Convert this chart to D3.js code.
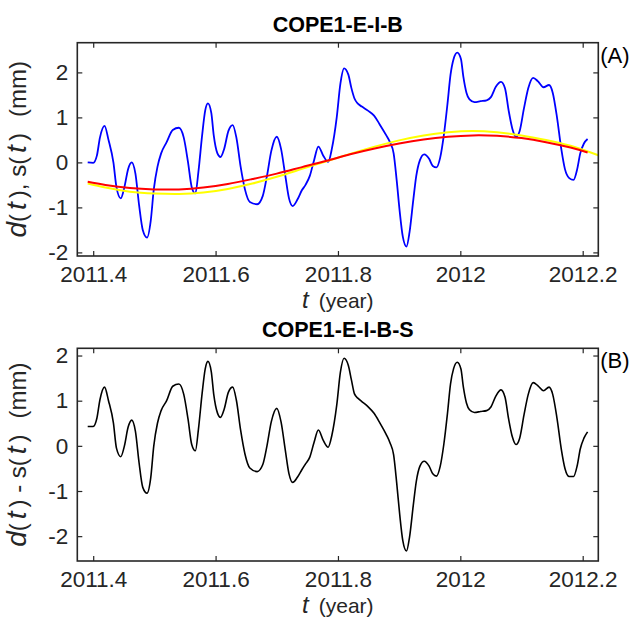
<!DOCTYPE html>
<html>
<head>
<meta charset="utf-8">
<script src="https://cdn.jsdelivr.net/npm/d3@7"></script>
<style>
  html, body { margin: 0; padding: 0; background: #fff; }
  svg { display: block; }
  text { font-family: "Liberation Sans", Arial, Helvetica, sans-serif; fill: #262626; }
</style>
</head>
<body>
<svg id="chart" width="631" height="622"></svg>
<script>
// Observed displacement d(t) (mm)
const obsTime = [2011.391, 2011.400, 2011.406, 2011.411, 2011.4185, 2011.425, 2011.433, 2011.438, 2011.445, 2011.451,
  2011.457, 2011.463, 2011.469, 2011.475, 2011.481, 2011.488, 2011.494, 2011.499, 2011.505, 2011.511,
  2011.520, 2011.530, 2011.540, 2011.548, 2011.555, 2011.561, 2011.567, 2011.572, 2011.578, 2011.583,
  2011.5875, 2011.593, 2011.597, 2011.603, 2011.608, 2011.614, 2011.621, 2011.628, 2011.634, 2011.641,
  2011.648, 2011.656, 2011.668, 2011.677, 2011.684, 2011.691, 2011.700, 2011.707, 2011.714, 2011.720,
  2011.726, 2011.734, 2011.741, 2011.747, 2011.754, 2011.761, 2011.768, 2011.776, 2011.784, 2011.790,
  2011.798, 2011.804, 2011.810, 2011.817, 2011.822, 2011.827, 2011.833, 2011.839, 2011.849, 2011.859,
  2011.868, 2011.879, 2011.885, 2011.891, 2011.896, 2011.901, 2011.906, 2011.912, 2011.917, 2011.923,
  2011.928, 2011.934, 2011.941, 2011.949, 2011.955, 2011.961, 2011.967, 2011.973, 2011.979, 2011.984,
  2011.989, 2011.995, 2012.001, 2012.005, 2012.010, 2012.015, 2012.023, 2012.033, 2012.043, 2012.050,
  2012.058, 2012.0665, 2012.073, 2012.079, 2012.085, 2012.091, 2012.097, 2012.104, 2012.111, 2012.119,
  2012.127, 2012.136, 2012.145, 2012.151, 2012.158, 2012.165, 2012.171, 2012.178, 2012.185, 2012.191,
  2012.196, 2012.202, 2012.208];
const obsValue = [0.00, -0.01, 0.15, 0.55, 0.81, 0.50, 0.00, -0.55, -0.80, -0.55,
  -0.15, 0.00, -0.25, -0.95, -1.50, -1.67, -1.30, -0.60, -0.10, 0.20,
  0.45, 0.72, 0.77, 0.55, 0.00, -0.55, -0.69, -0.20, 0.60, 1.15,
  1.31, 1.10, 0.60, 0.20, 0.12, 0.30, 0.70, 0.83, 0.55, -0.10,
  -0.60, -0.88, -0.93, -0.75, -0.30, 0.25, 0.57, 0.30, -0.30, -0.80,
  -0.97, -0.82, -0.62, -0.50, -0.30, 0.05, 0.35, 0.15, 0.01, 0.30,
  1.00, 1.75, 2.09, 1.95, 1.65, 1.42, 1.30, 1.24, 1.15, 1.04,
  0.85, 0.60, 0.45, 0.20, -0.40, -1.10, -1.65, -1.87, -1.55, -0.85,
  -0.30, 0.05, 0.18, 0.08, -0.08, -0.11, 0.10, 0.60, 1.30, 1.95,
  2.30, 2.44, 2.30, 1.90, 1.55, 1.40, 1.34, 1.36, 1.38, 1.45,
  1.68, 1.79, 1.65, 1.15, 0.75, 0.57, 0.70, 1.20, 1.65, 1.88,
  1.80, 1.67, 1.72, 1.55, 1.00, 0.30, -0.15, -0.35, -0.39, -0.15,
  0.20, 0.42, 0.52];

// Seasonal signal s(t) (red) and alternative seasonal fit (yellow)
const sigTime = [2011.391, 2011.42, 2011.46, 2011.50, 2011.54, 2011.58, 2011.62, 2011.66, 2011.70, 2011.74,
  2011.78, 2011.82, 2011.86, 2011.90, 2011.94, 2011.98, 2012.02, 2012.06, 2012.10, 2012.14,
  2012.18, 2012.208];
const sigValue = [-0.43, -0.50, -0.57, -0.60, -0.60, -0.56, -0.48, -0.37, -0.25, -0.11,
  0.03, 0.18, 0.31, 0.42, 0.51, 0.57, 0.60, 0.59, 0.54, 0.45,
  0.33, 0.22];
const altTime = [2011.391, 2011.42, 2011.46, 2011.50, 2011.54, 2011.58, 2011.62, 2011.66, 2011.70, 2011.74,
  2011.78, 2011.82, 2011.86, 2011.90, 2011.94, 2011.98, 2012.02, 2012.06, 2012.10, 2012.14,
  2012.18, 2012.2255];
const altValue = [-0.47, -0.56, -0.65, -0.69, -0.70, -0.67, -0.59, -0.47, -0.32, -0.15,
  0.02, 0.19, 0.35, 0.49, 0.60, 0.67, 0.70, 0.67, 0.60, 0.50,
  0.37, 0.16];

// Residual d(t) - s(t) (mm)
const resTime = obsTime;
const resValue = [0.43, 0.43, 0.61, 1.02, 1.30, 1.00, 0.51, -0.05, -0.24, 0.00,
  0.41, 0.57, 0.32, -0.38, -0.92, -1.05, -0.71, 0.00, 0.50, 0.78,
  1.00, 1.32, 1.37, 1.14, 0.59, 0.03, -0.11, 0.37, 1.16, 1.70,
  1.87, 1.64, 1.14, 0.73, 0.63, 0.81, 1.19, 1.30, 1.01, 0.34,
  -0.18, -0.49, -0.57, -0.42, 0.00, 0.53, 0.83, 0.53, -0.10, -0.62,
  -0.81, -0.69, -0.53, -0.40, -0.25, 0.08, 0.35, 0.12, -0.03, 0.23,
  0.90, 1.63, 1.94, 1.78, 1.46, 1.15, 1.05, 0.98, 0.87, 0.72,
  0.52, 0.25, 0.07, -0.20, -0.82, -1.53, -2.10, -2.33, -2.02, -1.33,
  -0.79, -0.45, -0.34, -0.45, -0.62, -0.67, -0.46, 0.03, 0.72, 1.37,
  1.71, 1.85, 1.70, 1.30, 0.95, 0.80, 0.74, 0.76, 0.78, 0.86,
  1.10, 1.24, 1.08, 0.59, 0.20, 0.03, 0.17, 0.68, 1.14, 1.40,
  1.33, 1.22, 1.30, 1.14, 0.61, -0.07, -0.50, -0.68, -0.68, -0.44,
  -0.07, 0.17, 0.31];

// Axis ticks
const xTicks = [2011.4, 2011.6, 2011.8, 2012, 2012.2];
const xTickLabels = ["2011.4", "2011.6", "2011.8", "2012", "2012.2"];
const yTicks = [-2, -1, 0, 1, 2];
const yTickLabels = ["-2", "-1", "0", "1", "2"];

const xDomain = [2011.374, 2012.2255];
const axisColor = "#262626";
const svg = d3.select("#chart");

function drawPanel(opt) {
  const { left, right, top, bottom } = opt.box;
  const x = d3.scaleLinear().domain(xDomain).range([left, right]);
  const y = d3.scaleLinear().domain(opt.yDomain).range([bottom, top]);
  const g = svg.append("g");

  const clipId = "clip-" + opt.key;
  svg.append("clipPath").attr("id", clipId)
    .append("rect").attr("x", left).attr("y", top)
    .attr("width", right - left).attr("height", bottom - top);

  const plot = g.append("g").attr("clip-path", `url(#${clipId})`);
  opt.series.forEach(s => {
    const pts = s.t.map((t, i) => [t, s.v[i]]);
    plot.append("path")
      .attr("d", d3.line().x(d => x(d[0])).y(d => y(d[1])).curve(s.curve)(pts))
      .attr("fill", "none")
      .attr("stroke", s.color)
      .attr("stroke-width", s.width)
      .attr("stroke-linejoin", "round");
  });

  const tickLen = 5;
  // Bottom axis with labels, top axis mirrored without labels
  const xb = g.append("g").attr("transform", `translate(0,${bottom})`)
    .call(d3.axisBottom(x).tickValues(xTicks).tickSizeInner(-tickLen).tickSizeOuter(0)
      .tickPadding(10).tickFormat((d, i) => xTickLabels[i]));
  const xt = g.append("g").attr("transform", `translate(0,${top})`)
    .call(d3.axisTop(x).tickValues(xTicks).tickSizeInner(-tickLen).tickSizeOuter(0).tickFormat(""));
  const yl = g.append("g").attr("transform", `translate(${left},0)`)
    .call(d3.axisLeft(y).tickValues(yTicks).tickSizeInner(-tickLen).tickSizeOuter(0)
      .tickPadding(9).tickFormat((d, i) => yTickLabels[i]));
  const yr = g.append("g").attr("transform", `translate(${right},0)`)
    .call(d3.axisRight(y).tickValues(yTicks).tickSizeInner(-tickLen).tickSizeOuter(0).tickFormat(""));

  [xb, xt, yl, yr].forEach(a => {
    a.select(".domain").remove();
    a.selectAll(".tick line").attr("stroke", axisColor).attr("stroke-width", 1.2);
    a.selectAll(".tick text").attr("fill", axisColor)
      .style("font-family", '"Liberation Sans", Arial, sans-serif').style("font-size", "22.5px");
  });
  xb.selectAll(".tick text").attr("dy", "0.71em");

  g.append("rect")
    .attr("x", left).attr("y", top)
    .attr("width", right - left).attr("height", bottom - top)
    .attr("fill", "none").attr("stroke", axisColor).attr("stroke-width", 1.6);

  // Title
  g.append("text")
    .attr("x", (left + right) / 2).attr("y", top - 11)
    .attr("text-anchor", "middle")
    .style("font-size", "21.5px").style("font-weight", "bold")
    .style("fill", "#000")
    .text(opt.title);

  // Panel tag
  g.append("text")
    .attr("x", right + 2).attr("y", top + 20)
    .style("font-size", "22px").style("fill", "#000")
    .text(opt.tag);

  // X label
  const xl = g.append("text")
    .attr("x", (left + right) / 2).attr("y", bottom + 52)
    .attr("text-anchor", "middle")
    .style("font-size", "21px");
  xl.append("tspan").style("font-style", "italic").style("font-size", "24px").text("t");
  xl.append("tspan").attr("dx", 10).text("(year)");

  // Y label
  const ylab = g.append("text")
    .attr("transform", `translate(${left - 51},${(top + bottom) / 2}) rotate(-90)`)
    .attr("text-anchor", "middle")
    .style("font-size", "24px");
  opt.yLabel.forEach(part => {
    const ts = ylab.append("tspan").text(part.s);
    if (part.it) ts.style("font-style", "italic").style("font-size", "28px");
    if (part.dx) ts.attr("dx", part.dx);
  });
}

const yLabelTop = [
  { s: "d", it: true }, { s: "(" }, { s: "t", it: true, dx: 4 }, { s: ")", dx: 4 }, { s: ", s(" },
  { s: "t", it: true, dx: 4 }, { s: ")", dx: 4 }, { s: "(mm)", dx: 16 }
];
const yLabelBottom = [
  { s: "d", it: true }, { s: "(" }, { s: "t", it: true, dx: 4 }, { s: ")", dx: 4 }, { s: " - s(" },
  { s: "t", it: true, dx: 4 }, { s: ")", dx: 4 }, { s: "(mm)", dx: 16 }
];

drawPanel({
  key: "a",
  box: { left: 77.3, right: 598.3, top: 42.7, bottom: 256 },
  yDomain: [-2.08, 2.66],
  title: "COPE1-E-I-B",
  tag: "(A)",
  yLabel: yLabelTop,
  series: [
    { t: obsTime, v: obsValue, color: "#0000ff", width: 1.8, curve: d3.curveMonotoneX },
    { t: altTime, v: altValue, color: "#ffff00", width: 2, curve: d3.curveNatural },
    { t: sigTime, v: sigValue, color: "#ff0000", width: 2, curve: d3.curveNatural }
  ]
});

drawPanel({
  key: "b",
  box: { left: 77.3, right: 598.3, top: 348.3, bottom: 561 },
  yDomain: [-2.55, 2.16],
  title: "COPE1-E-I-B-S",
  tag: "(B)",
  yLabel: yLabelBottom,
  series: [
    { t: resTime, v: resValue, color: "#000000", width: 1.6, curve: d3.curveMonotoneX }
  ]
});
</script>
</body>
</html>
